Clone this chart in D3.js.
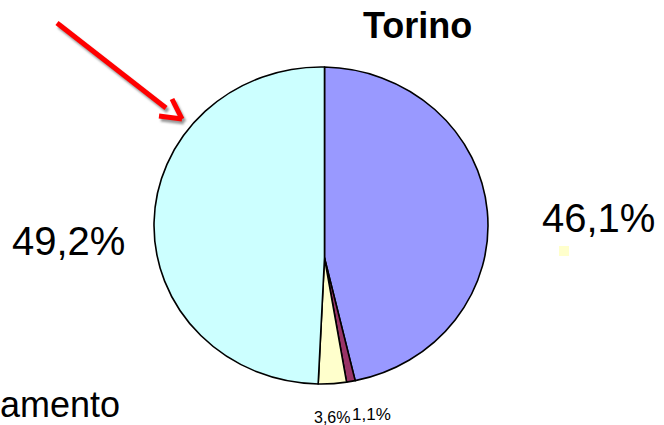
<!DOCTYPE html>
<html>
<head>
<meta charset="utf-8">
<script src="https://cdn.jsdelivr.net/npm/d3@7"></script>
<style>
  html, body { margin: 0; padding: 0; background: #fff; overflow: hidden; }
  text { font-family: "Liberation Sans", Arial, sans-serif; fill: #000; }
</style>
</head>
<body>
<svg id="chart" width="664" height="425"></svg>
<script>
// Torino: share of each component (percent), clockwise from 12 o'clock
const title = "Torino";
const categories = ["Quota A", "Quota B", "Quota C", "Quota D"];
const values = [46.1, 1.1, 3.6, 49.2];
const colors = ["#9999FF", "#993366", "#FFFFCC", "#CCFFFF"];
const legendText = "amento";

const fmt = v => d3.format(".1f")(v).replace(".", ",") + "%";

const svg = d3.select("#chart");

// Pie geometry: elliptical outline, wedges meeting at a slightly lowered apex
const cx = 321, cy = 225.5, rx = 167, ry = 158.5;
const vx = 324.5, vy = 258;

const pie = d3.pie().sort(null).value(d => d)(values);

function rimPoint(a) {
  const dx = Math.sin(a), dy = -Math.cos(a);
  const ox = vx - cx, oy = vy - cy;
  const rx2 = rx * rx, ry2 = ry * ry;
  const A = dx * dx / rx2 + dy * dy / ry2;
  const B = 2 * (ox * dx / rx2 + oy * dy / ry2);
  const C = ox * ox / rx2 + oy * oy / ry2 - 1;
  const t = (-B + Math.sqrt(B * B - 4 * A * C)) / (2 * A);
  return [vx + t * dx, vy + t * dy];
}
function rimAngle(p) {
  let a = Math.atan2((p[0] - cx) / rx, -(p[1] - cy) / ry);
  if (a < 0) a += 2 * Math.PI;
  return a;
}
function wedgePath(d) {
  const p0 = rimPoint(d.startAngle), p1 = rimPoint(d.endAngle);
  let span = rimAngle(p1) - rimAngle(p0);
  if (span <= 0) span += 2 * Math.PI;
  const path = d3.path();
  path.moveTo(vx, vy);
  path.lineTo(p0[0], p0[1]);
  const large = span > Math.PI ? 1 : 0;
  return path.toString() +
    `A${rx},${ry} 0 ${large} 1 ${p1[0]},${p1[1]}Z`;
}

svg.append("g").selectAll("path")
  .data(pie)
  .join("path")
  .attr("d", wedgePath)
  .attr("fill", (d, i) => colors[i])
  .attr("stroke", "#000")
  .attr("stroke-width", 1.6)
  .attr("stroke-linejoin", "round");

// Title
svg.append("text")
  .attr("x", 363).attr("y", 38)
  .attr("font-size", 36).attr("font-weight", "bold")
  .text(title);

// Data labels
const labelPos = [
  { x: 542, y: 232, size: 40 },
  { x: 352, y: 420, size: 17 },
  { x: 314, y: 423, size: 16 },
  { x: 12,  y: 255, size: 40 }
];
svg.append("g").selectAll("text")
  .data(pie)
  .join("text")
  .attr("x", (d, i) => labelPos[i].x)
  .attr("y", (d, i) => labelPos[i].y)
  .attr("font-size", (d, i) => labelPos[i].size)
  .text(d => fmt(d.data));

// Legend fragments
svg.append("rect")
  .attr("x", 559).attr("y", 246).attr("width", 10).attr("height", 10)
  .attr("fill", colors[2]);
svg.append("text")
  .attr("x", 0).attr("y", 417)
  .attr("font-size", 36)
  .text(legendText);

// Red pointer arrow with soft drop shadow
const defs = svg.append("defs");
defs.append("filter").attr("id", "soft")
  .append("feGaussianBlur").attr("stdDeviation", 1);

const arrowSegs = [
  [[57, 23], [166, 108]],
  [[172, 99], [182, 119]],
  [[159, 116], [182, 119]]
];
function drawArrow(g, color) {
  g.selectAll("line")
    .data(arrowSegs)
    .join("line")
    .attr("x1", d => d[0][0]).attr("y1", d => d[0][1])
    .attr("x2", d => d[1][0]).attr("y2", d => d[1][1])
    .attr("stroke", color)
    .attr("stroke-width", 5);
}
drawArrow(svg.append("g")
  .attr("transform", "translate(2,3)")
  .attr("filter", "url(#soft)"), "#9a9a9a");
drawArrow(svg.append("g"), "#FF0000");
</script>
</body>
</html>
